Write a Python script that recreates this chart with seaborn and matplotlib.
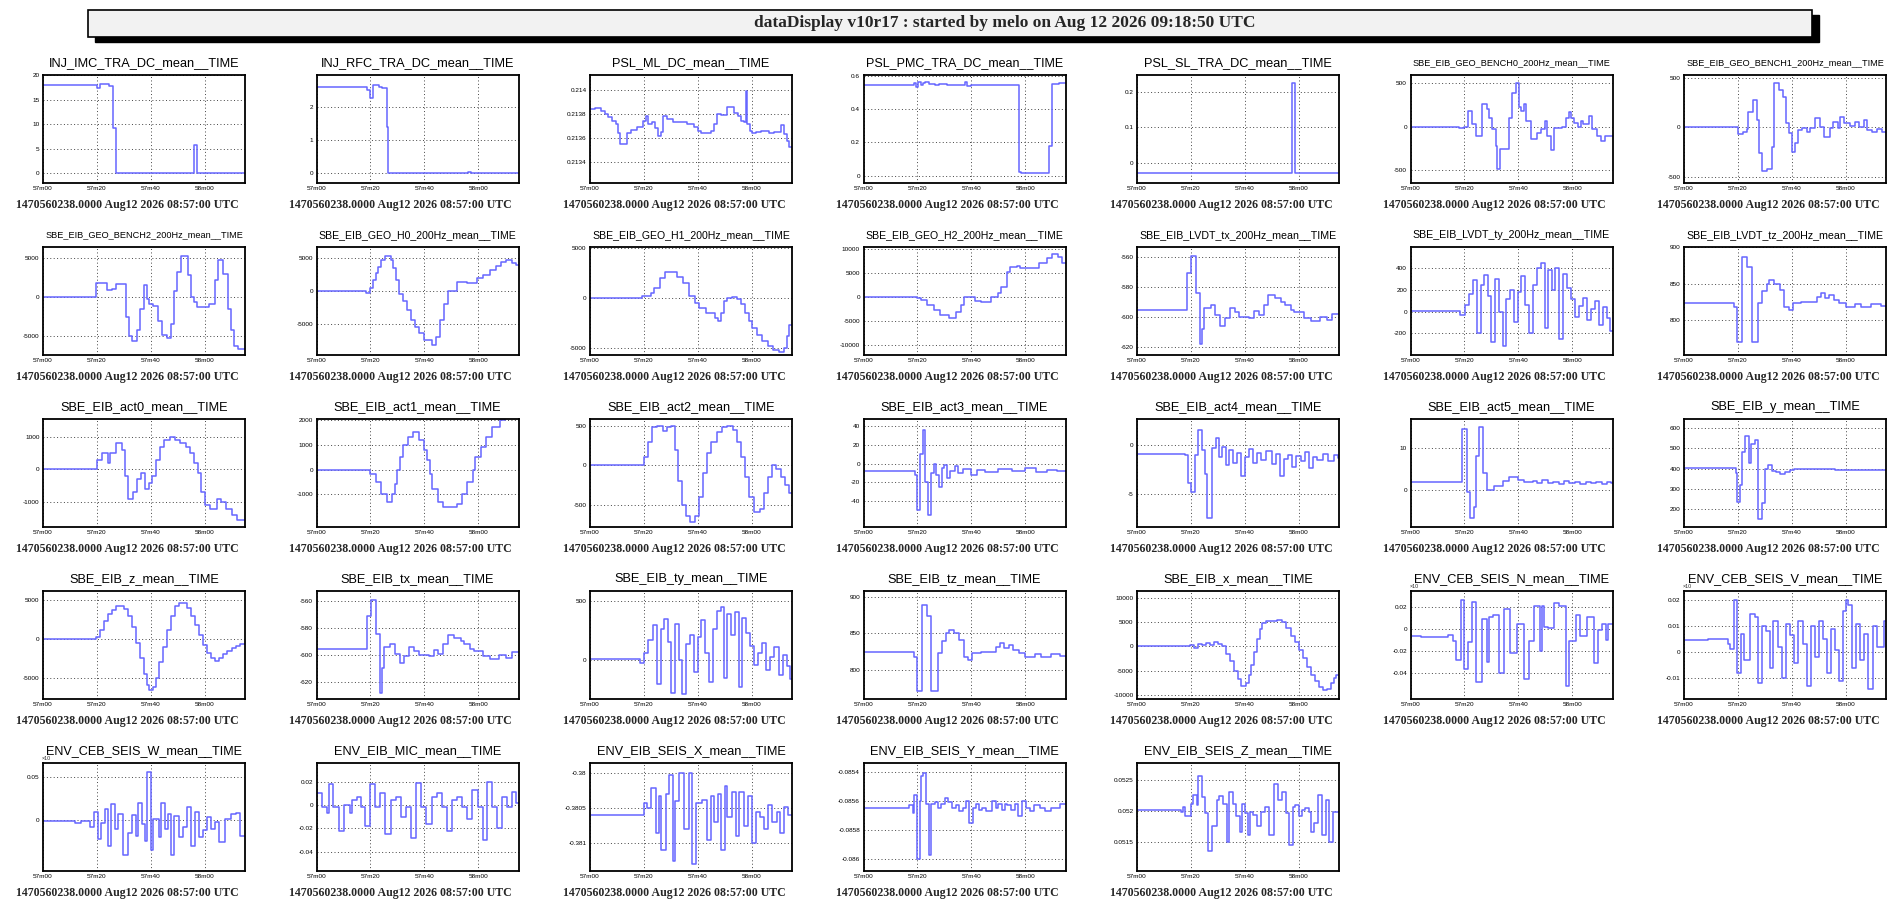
import matplotlib
matplotlib.use("Agg")
import matplotlib.pyplot as plt
import seaborn as sns
from matplotlib.patches import Rectangle
from matplotlib.ticker import FixedLocator, FixedFormatter, MultipleLocator, AutoMinorLocator

# ---- chart text -------------------------------------------------------------
MAIN_TITLE = "dataDisplay v10r17 : started by melo on Aug 12 2026 09:18:50 UTC"
DATE_LABEL = "1470560238.0000 Aug12 2026 08:57:00 UTC"
X_TICKS = [0, 20, 40, 60]
X_LABELS = ["57m00", "57m20", "57m40", "58m00"]
T_END = 75

# ---- data: step breakpoints (seconds after 08:57:00) and values --------------
imc_t = [0, 20, 21, 22, 24.5, 26, 27, 56.2, 57.3]
imc_v = [17.9, 17.3, 18.2, 18.1, 17.7, 9.2, 0, 5.7, 0]

rfc_t = [0, 18.6, 19.7, 20.8, 23.3, 24.5, 26.0, 26.6, 56.3, 57.5]
rfc_v = [2.6, 2.5, 2.25, 2.65, 2.6, 2.55, 1.4, 0, 0.03, 0]

ml_t = [0, 1.7, 4.2, 5.5, 6.8, 8, 9.5, 10.5, 11.2, 13.9, 15.1, 17.6, 19.5, 20.8, 21.5, 23, 24,
        25.2, 26.5, 27.2, 28.7, 31, 36, 38.6, 40, 41.1, 44.8, 46, 47.2, 48.5, 51, 53.5, 54.8,
        56, 57, 58, 58.4, 59.4, 60.3, 61.5, 63.4, 66.5, 68.3, 70.8, 72.1, 73.3, 74]
ml_v = [0.21384, 0.21385, 0.21382, 0.21380, 0.21377, 0.21374, 0.21372, 0.21364, 0.21355,
        0.21364, 0.21367, 0.21369, 0.21374, 0.21378, 0.21372, 0.21373, 0.21368, 0.21362,
        0.21365, 0.21378, 0.21376, 0.21373, 0.21372, 0.21369, 0.21366, 0.21364, 0.21366,
        0.21372, 0.21380, 0.21379, 0.21386, 0.21381, 0.21378, 0.21374, 0.21373, 0.21399,
        0.21372, 0.21366, 0.21364, 0.21365, 0.21366, 0.21364, 0.21365, 0.21371, 0.21363,
        0.21358, 0.21353]

pmc_t = [0, 18.8, 19.6, 20.4, 21.2, 22.0, 23.0, 24.5, 26.5, 28, 31, 37.5, 38.5, 40, 57.9,
         58.6, 69.0, 70.0, 72.5]
pmc_v = [0.545, 0.555, 0.535, 0.56, 0.545, 0.555, 0.56, 0.55, 0.545, 0.55, 0.545, 0.56,
         0.54, 0.545, 0.024, 0.015, 0.18, 0.55, 0.555]

sl_t = [0, 57.5, 58.5]
sl_v = [-0.03, 0.225, -0.03]

bench0_t = [0, 18.0, 19.8, 21.3, 22.9, 24.4, 26.7, 28.3, 29.1, 30.4, 31.6, 32.2, 33.2, 36.6,
            37.8, 39.0, 40.3, 41.1, 42.1, 43.0, 44.6, 47.1, 48.3, 49.8, 50.8, 52.0, 53.3,
            56.4, 57.6, 58.9, 59.5, 60.7, 62.2, 63.2, 64.2, 66.3, 67.5, 69.1, 70.9, 72.1]
bench0_v = [0, -20, 0, 183, 27, -108, 259, 203, 103, -31, -220, -490, -253, 103, 390, 506,
            230, 183, 259, 65, -138, -70, -31, 65, -108, -272, -12, 0, 103, 169, 103, 46, 0,
            65, 27, 122, -31, -108, -165, -108]

bench1_t = [0, 20.2, 22.0, 23.3, 23.9, 25.5, 27.0, 28.0, 28.8, 30.7, 32.6, 33.4, 35.4, 36.9,
            37.9, 38.8, 40.0, 41.3, 42.5, 43.8, 45.6, 46.9, 48.7, 50.6, 51.8, 54.3, 55.5,
            57.0, 58.0, 59.5, 61.7, 63.6, 64.8, 66.7, 67.9, 69.8, 71.6, 73.5]
bench1_v = [0, -71, -50, -20, 157, 275, 74, -262, -437, -420, -195, 443, 376, 309, 40, -60,
            -245, -161, -30, -10, -44, -10, 90, 0, -101, -10, 57, -10, 101, 40, 13, 57, 0,
            74, -30, -44, -20, -44]

bench2_t = [0, 19.5, 21.6, 23.8, 25.5, 27.0, 30.7, 31.8, 33.0, 35.0, 36.2, 37.4, 38.5, 39.3,
            41.0, 42.8, 44.0, 46.0, 47.5, 48.6, 49.7, 51.4, 54.0, 55.1, 56.2, 57.3, 61.6,
            63.7, 64.8, 67.0, 68.7, 69.8, 71.0, 72.5]
bench2_v = [0, 1740, 1830, 960, 1090, 1650, -2500, -5000, -5600, -4200, -1500, 1500, -200,
            -870, -1090, -3000, -4800, -5200, -3500, 800, 3200, 5200, 2800, 0, -600, -1300,
            -870, 2200, 4800, 3000, -1500, -4200, -6200, -6600]

h0_t = [0, 18.3, 20.0, 21.0, 22.0, 23.0, 24.0, 25.5, 27.5, 28.5, 29.5, 30.5, 32.0, 33.5,
        35.0, 36.5, 38.0, 40.0, 43.0, 44.5, 46.0, 47.5, 49.0, 52.0, 56.0, 59.5, 62.0, 64.5,
        66.5, 68.5, 70.5, 72.5, 74.0]
h0_v = [0, -310, 360, 1650, 2680, 3600, 4740, 5260, 4700, 3450, 1650, -410, -1500, -3000,
        -4500, -5500, -6500, -7500, -8300, -7000, -4500, -2000, 0, 1390, 1130, 1900, 2420,
        3190, 3800, 4480, 4740, 4220, 3970]

h1_t = [0, 19.4, 22.6, 23.7, 25.9, 28.0, 32.3, 34.5, 36.6, 38.8, 40.5, 43.1, 46.3, 47.5,
        48.5, 49.6, 51.0, 52.8, 54.5, 56.0, 57.5, 59.0, 60.3, 62.0, 64.0, 66.0, 68.0, 70.0,
        72.0, 73.0, 74.0]
h1_v = [0, 220, 450, 1000, 2000, 2600, 2100, 1500, 200, -570, -1050, -1530, -2000, -2300,
        -1500, -300, 0, 100, -100, -600, -1500, -2300, -3000, -3700, -4300, -4800, -5200,
        -5400, -5000, -3800, -2700]

h2_t = [0, 20.0, 21.2, 23.6, 26.0, 28.3, 31.9, 34.3, 36.2, 37.4, 39.0, 41.4, 43.8, 47.4,
        49.8, 51.0, 53.3, 54.5, 56.9, 58.1, 60.5, 65.2, 68.1, 70.0, 72.4, 73.6]
h2_v = [0, -200, -555, -1600, -2640, -3680, -4230, -2980, -1600, 140, 0, -760, -900, 140,
        830, 2220, 5340, 6380, 6600, 6040, 6180, 7080, 8120, 8950, 8470, 7080]

ltx_t = [0, 18.6, 20.2, 21.9, 23.3, 24.2, 25.0, 27.4, 29.0, 31.0, 32.5, 34.5, 36.3, 38.0,
         41.7, 43.5, 45.2, 47.0, 48.8, 51.2, 53.6, 54.8, 57.0, 58.3, 61.9, 64.5, 67.9, 70.5,
         72.5]
ltx_v = [-595.6, -571, -559.5, -584.4, -618, -608, -594.4, -592.2, -598.9, -606, -601,
         -594.4, -597, -600, -601.1, -596, -599, -592, -585.5, -587.7, -590, -592.2, -595.6,
         -597, -601.1, -603, -600, -602, -598]

lty_t = [0, 18.4, 20.2, 21.6, 23.3, 24.8, 26.2, 27.4, 28.8, 30.0, 31.5, 33.0, 34.2, 35.6,
         37.0, 38.5, 40.0, 41.2, 42.6, 44.0, 45.5, 47.0, 48.5, 49.8, 51.0, 52.4, 53.8, 55.2,
         56.5, 58.0, 59.5, 61.0, 62.5, 64.0, 65.5, 67.0, 68.5, 70.0, 71.5, 73.0, 74.2]
lty_v = [5, -30, 60, 160, 290, -200, 250, 340, 140, -280, 300, 0, -320, 120, 200, -100, 180,
         330, 60, -200, 250, 400, 450, -150, 380, 200, 400, -250, 350, 220, 120, -50, 50,
         130, -80, 20, 100, -120, 40, -60, -180]

ltz_t = [0, 18.7, 19.7, 21.6, 23.5, 25.2, 27.6, 29.0, 30.7, 31.7, 33.6, 35.5, 37.2, 38.8,
         40.3, 43.6, 49.2, 50.8, 52.3, 54.0, 55.6, 57.6, 60.0, 63.5, 65.9, 69.5, 73.1]
ltz_v = [824, 818, 770, 887, 873, 770, 823, 840, 850, 855, 850, 841, 818, 814, 823, 825,
         832, 837, 830, 834, 827, 823, 818, 822, 818, 822, 819]

act0_t = [0, 20, 22, 24, 25, 27, 29.5, 30.5, 31.5, 33.5, 35, 36.5, 38, 39.5, 40.5, 42, 43.5,
          45, 47, 49, 51, 53, 54.5, 56, 57.5, 58.5, 60, 62, 64.5, 66, 68, 70, 72]
act0_v = [0, 300, 500, 200, 500, 800, 600, -200, -900, -700, -300, -100, -600, -400, -200,
          300, 700, 900, 1000, 900, 800, 700, 500, 200, -100, -700, -1100, -1200, -900,
          -1000, -1200, -1400, -1550]

act1_t = [0, 20, 22, 24, 26, 28, 29, 30, 31, 32, 34, 36, 38, 40, 41, 42, 43, 45, 47, 52,
          54, 56, 58, 59, 61, 63, 65, 68, 70]
act1_v = [0, -200, -500, -1000, -1300, -1000, -600, 0, 500, 1000, 1300, 1500, 1200, 800,
          400, -200, -800, -1300, -1500, -1400, -1000, -500, 0, 500, 900, 1300, 1700, 2000,
          2100]

act2_t = [0, 20, 21.5, 23, 25, 27, 28.5, 30, 31.5, 32.5, 34, 35.5, 37, 39, 40.5, 42, 43.5,
          45, 47, 49, 51, 53, 54.5, 56, 57.5, 59, 61, 63, 64.5, 66, 67.5, 69, 71, 72.5, 74]
act2_v = [0, 100, 300, 480, 500, 430, 480, 500, 200, -200, -500, -650, -720, -650, -400,
          -100, 150, 300, 420, 480, 500, 450, 300, 100, -150, -400, -600, -550, -350, -150,
          0, -50, -150, -250, -350]

act3_t = [0, 19, 20, 21, 22, 23, 24, 25, 26, 27, 28, 29, 30, 31, 32, 34, 35, 37, 40, 42, 45,
          50, 55, 60, 64, 68, 72]
act3_v = [-8, -12, -50, 10, 36, -20, -55, -10, 0, -12, -25, -5, -2, -15, -8, -3, -10, -6,
          -12, -7, -9, -6, -8, -5, -9, -7, -8]

act4_t = [0, 18, 19, 20.2, 21.5, 22.5, 24, 25.2, 26, 28, 29.5, 30.5, 31.5, 33, 34, 35.5, 37,
          38.5, 40, 41.5, 43, 44.5, 46, 48, 50, 51.5, 53, 54.5, 56, 57.5, 59, 61, 62.5, 64,
          65.5, 67, 69, 71, 73, 74.5]
act4_v = [-0.9, -1.0, -3.9, -4.8, -1.0, 1.6, -0.5, -3.0, -7.5, -0.3, 0.7, -1.2, -0.2, -2.0,
          -0.5, -1.8, -0.8, -3.2, -1.2, -0.4, -1.8, -0.8, -1.5, -0.6, -1.9, -0.9, -3.2, -1.4,
          -1.0, -2.2, -1.1, -1.6, -0.7, -2.3, -1.2, -1.5, -0.9, -1.6, -1.0, -1.3]

act5_t = [0, 19, 21, 22, 23.5, 24.5, 25.5, 27, 28.5, 31, 34.5, 36.5, 40, 42, 45.5, 47, 49,
          51, 53, 55, 57, 59, 61, 63, 65, 67, 69, 71, 73, 74.5]
act5_v = [1.8, 14.5, -0.4, -6.7, -4, 8, 15, 4, 0, 0.9, 2.1, 3.1, 2.4, 1.9, 2.1, 1.7, 2.3, 1.6,
          2.0, 1.5, 2.2, 1.7, 1.9, 1.5, 2.0, 1.6, 1.8, 1.4, 1.9, 1.6]

y_t = [0, 19.3, 19.8, 20.7, 21.5, 22.5, 24, 25, 26.2, 27.6, 28.8, 30, 31.2, 32.5, 34, 35.5,
       37.5, 39.5, 41, 43, 45, 48, 52, 56, 60, 65, 70]
y_v = [402, 380, 237, 320, 480, 560, 430, 520, 540, 150, 230, 400, 420, 390, 382, 375, 385,
       392, 398, 400, 396, 398, 396, 395, 394, 395, 394]

z_t = [0, 19.5, 21, 22.5, 24, 25.5, 27, 28.5, 30, 31.5, 33, 34.5, 36, 37.5, 38.5, 39.5, 41,
       42, 43, 44.5, 46, 47.5, 49, 50.5, 52, 53.5, 55, 56.5, 58, 59.5, 61, 62.5, 64, 65.5,
       67, 68.5, 70, 71.5, 73, 74.5]
z_v = [0, 300, 1200, 2300, 3200, 3800, 4200, 4300, 3900, 3000, 1500, -500, -2500, -4500,
       -6000, -6600, -6200, -5000, -3000, -1000, 1200, 3000, 4200, 4700, 4600, 4000, 3000,
       1800, 500, -800, -1800, -2500, -2800, -2500, -2000, -1500, -1200, -900, -700, -600]

tx_t = [0, 18.8, 20.4, 22.0, 23.5, 24.4, 25.2, 27.4, 29.0, 31.0, 32.5, 34.5, 36.3, 38.0,
        41.7, 43.5, 45.2, 47.0, 48.8, 51.2, 53.6, 54.8, 57.0, 58.3, 61.9, 64.5, 67.9, 70.5,
        72.5]
tx_v = [-595.6, -571, -559.5, -584.4, -628, -610, -594.4, -592.2, -598.9, -606, -601, -594.4,
        -597, -600, -601.1, -596, -599, -592, -585.5, -587.7, -590, -592.2, -595.6, -597,
        -601.1, -603, -600, -602, -598]

ty_t = [0, 18.4, 20.2, 21.6, 23.3, 24.8, 26.2, 27.4, 28.8, 30.0, 31.5, 33.0, 34.2, 35.6,
        37.0, 38.5, 40.0, 41.2, 42.6, 44.0, 45.5, 47.0, 48.5, 49.8, 51.0, 52.4, 53.8, 55.2,
        56.5, 58.0, 59.5, 61.0, 62.5, 64.0, 65.5, 67.0, 68.5, 70.0, 71.5, 73.0, 74.2]
ty_v = [5, -30, 60, 170, 300, -210, 260, 350, 150, -290, 310, 0, -300, 130, 210, -110, 190,
        340, 60, -190, 260, 420, 450, -160, 390, 210, 410, -240, 360, 230, 120, -50, 60, 140,
        -90, 20, 110, -130, 40, -60, -170]

tz_t = [0, 18.7, 19.7, 21.6, 23.5, 25.2, 27.6, 29.0, 30.7, 31.7, 33.6, 35.5, 37.2, 38.8,
        40.3, 43.6, 49.2, 50.8, 52.3, 54.0, 55.6, 57.6, 60.0, 63.5, 65.9, 69.5, 73.1]
tz_v = [824, 818, 772, 888, 874, 772, 823, 840, 850, 855, 850, 841, 818, 814, 823, 825, 832,
        837, 830, 834, 827, 823, 818, 822, 818, 822, 819]

x_t = [0, 19.5, 21, 22.5, 24, 25.5, 27, 28.5, 30, 31.5, 33, 34.5, 36, 37.5, 38.5, 40.5,
       41.5, 42.5, 43.5, 44.5, 45.5, 46.5, 48, 50, 52, 54, 55.5, 57, 58.5, 60, 61.5, 63,
       64.5, 66, 67.5, 69, 70.5, 72, 73, 74]
x_v = [0, 300, -300, 400, 200, 600, 300, 800, 500, 0, -1500, -3000, -5000, -6800, -8200,
       -7600, -6000, -3800, -1200, 1500, 3500, 4800, 5300, 5200, 5400, 5000, 3800, 2200,
       800, -800, -2500, -4200, -5800, -7200, -8400, -9000, -8700, -7500, -6500, -5800]

seisn_t = [0, 4, 7, 10, 13, 14.1, 15.9, 17, 18.7, 19.8, 21.2, 22.8, 24.5, 26.5, 28.3, 29,
           30.8, 32.7, 34.8, 36.8, 39.6, 42, 44, 46, 48, 48.9, 49.5, 51, 53.2, 55.1, 57.6,
           59, 61.3, 63, 65.7, 68, 69.8, 71, 72.5, 73.5]
seisn_v = [-0.0065, -0.0070, -0.0068, -0.0072, -0.0066, -0.0050, -0.011, -0.028, 0.027,
           -0.036, -0.012, 0.025, -0.048, 0.009, -0.030, 0.011, 0.013, -0.040, 0.018,
           -0.022, 0.005, -0.045, -0.011, 0.021, -0.020, 0.021, 0.002, 0.001, 0.024, 0.021,
           -0.052, -0.011, 0.013, -0.006, 0.011, -0.031, -0.001, 0.005, -0.010, 0.005]

seisv_t = [0, 9, 16.2, 17.0, 18.6, 19.8, 21.0, 22.4, 24.5, 26.4, 27.3, 28.8, 30.5, 31.8,
           33.2, 35, 36.5, 38, 39.5, 41, 42.5, 44, 45.5, 47, 48.5, 50, 51.5, 53, 54.5, 56,
           57.5, 59, 60.2, 61, 62.5, 64, 65.5, 67, 68.5, 70, 71.5, 73, 74.2]
seisv_v = [0.0046, 0.0050, 0.0033, 0.0014, 0.020, -0.008, 0.007, -0.003, 0.0145, 0.0135,
           -0.012, 0.010, 0.008, -0.006, 0.012, 0.002, -0.010, 0.011, 0.0065, -0.004, 0.012,
           0.003, -0.013, 0.010, -0.002, 0.012, 0.005, -0.008, 0.009, 0.001, -0.011, 0.016,
           0.020, 0.018, -0.006, 0.011, -0.003, 0.007, -0.014, 0.010, 0.002, 0.002, 0.012]

seisw_t = [0, 12, 14, 17.5, 19.1, 20.4, 21.5, 22.9, 24.2, 25.4, 26.7, 27.7, 29.6, 31.5,
           33.0, 34.4, 35.3, 36.8, 37.8, 38.7, 40.1, 41.0, 42.9, 43.9, 45.2, 46.4, 47.7,
           48.7, 50.6, 51.8, 53.4, 54.8, 56.3, 57.8, 59.5, 61.0, 62.5, 64.0, 65.5, 67.7,
           69.7, 71.6, 73.0]
seisw_v = [-0.001, -0.003, -0.001, -0.008, 0.0096, -0.022, -0.004, 0.0123, -0.030, 0.019,
           -0.010, 0.007, -0.040, -0.015, 0.006, -0.018, 0.020, -0.005, -0.024, 0.056,
           -0.035, 0.001, -0.020, 0.020, -0.010, 0.007, -0.040, 0.0046, -0.020, -0.008,
           0.0154, -0.030, 0.0096, -0.020, -0.012, 0.004, -0.010, -0.002, -0.025, 0.001,
           0.007, 0.0085, -0.018]

mic_t = [0, 1.9, 3.8, 4.7, 6.3, 8.5, 10.1, 12.3, 13.3, 15.2, 16.5, 18.0, 19.9, 21.8, 23.7,
         25.6, 27.5, 29.4, 31.3, 33.2, 35.1, 37.0, 38.9, 40.8, 42.7, 44.6, 46.5, 48.4, 50.3,
         52.2, 54.1, 56.0, 57.9, 59.8, 61.7, 63.2, 65.1, 67.0, 68.9, 70.8, 72.7, 74.0]
mic_v = [0.010, -0.0014, -0.0072, 0.018, -0.0014, -0.022, 0.0, -0.0072, 0.0043, 0.0072,
         -0.0014, -0.018, 0.018, -0.0014, 0.010, -0.025, 0.0043, 0.0072, -0.010, -0.0014,
         -0.028, 0.019, -0.0014, -0.016, 0.0072, 0.010, -0.0014, -0.022, 0.0043, 0.0072,
         -0.0014, -0.012, 0.013, -0.0014, -0.030, 0.020, -0.0014, -0.020, 0.0072, -0.0014,
         0.011, 0.0014]

seisx_t = [0, 20.0, 21.3, 22.8, 24.5, 25.7, 26.5, 28.3, 29.3, 30.7, 31.5, 33.0, 34.9, 36.7,
           38.0, 39.5, 41.4, 43.3, 45.0, 46.1, 47.4, 48.6, 50.0, 51.0, 52.6, 54.2, 55.4,
           57.2, 58.7, 60.0, 61.5, 63.1, 64.5, 66.0, 67.7, 69.3, 70.6, 72.2, 73.7]
seisx_v = [-0.38060, -0.38043, -0.38050, -0.38021, -0.38085, -0.38033, -0.38110, -0.38029,
           -0.38002, -0.38125, -0.38040, -0.37999, -0.38080, -0.37999, -0.38130, -0.38043,
           -0.38038, -0.38095, -0.38032, -0.38070, -0.38029, -0.38110, -0.38018, -0.38062,
           -0.38026, -0.38090, -0.38026, -0.38075, -0.38033, -0.38100, -0.38055, -0.38062,
           -0.38080, -0.38045, -0.38070, -0.38055, -0.38085, -0.38048, -0.38060]

seisy_t = [0, 16.8, 18.2, 18.9, 20.0, 21.0, 21.4, 22.0, 23.1, 24.2, 25.2, 26.6, 27.6, 28.7,
           30.1, 31.3, 32.7, 34.4, 35.5, 36.9, 37.9, 39.3, 40.7, 41.7, 42.8, 43.9, 45.6,
           47.7, 49.2, 50.1, 51.3, 52.4, 53.4, 54.8, 56.2, 57.2, 59.0, 60.4, 61.8, 63.2,
           65.4, 67.5, 69.6, 73.1]
seisy_v = [-0.08565, -0.08563, -0.08568, -0.08556, -0.08600, -0.08560, -0.08543, -0.08541,
           -0.08562, -0.08597, -0.08562, -0.08561, -0.08565, -0.08562, -0.08558, -0.08561,
           -0.08565, -0.08563, -0.08567, -0.08565, -0.08560, -0.08575, -0.08565, -0.08562,
           -0.08566, -0.08565, -0.08567, -0.08560, -0.08565, -0.08562, -0.08566, -0.08562,
           -0.08563, -0.08566, -0.08562, -0.08570, -0.08560, -0.08565, -0.08567, -0.08563,
           -0.08565, -0.08567, -0.08565, -0.08562]

seisz_t = [0, 16.5, 17.2, 17.9, 20.0, 20.7, 22.1, 22.8, 24.2, 25.4, 26.3, 27.7, 29.6, 30.6,
           32.0, 33.4, 34.1, 35.5, 36.9, 38.3, 39.0, 40.0, 41.1, 41.8, 43.2, 44.6, 46.1,
           47.5, 48.9, 51.0, 52.4, 53.8, 55.2, 56.6, 58.0, 58.7, 60.1, 61.1, 62.3, 63.7,
           64.6, 65.8, 67.2, 68.6, 70.0, 71.4, 72.8]
seisz_v = [0.05201, 0.05198, 0.05207, 0.05191, 0.05212, 0.05226, 0.05210, 0.05257, 0.05223,
           0.05196, 0.05135, 0.05175, 0.05217, 0.05225, 0.05212, 0.05150, 0.05231, 0.05212,
           0.05191, 0.05165, 0.05212, 0.05196, 0.05160, 0.05198, 0.05193, 0.05175, 0.05198,
           0.05207, 0.05160, 0.05244, 0.05217, 0.05231, 0.05196, 0.05145, 0.05207, 0.05210,
           0.05191, 0.05201, 0.05204, 0.05198, 0.05165, 0.05180, 0.05226, 0.05160, 0.05217,
           0.05150, 0.05198]

# ---- panels: title, series, y range, y ticks, exponent flag -------------------
PANELS = [
    ("INJ_IMC_TRA_DC", imc_t, imc_v, (-2, 20), [0, 5, 10, 15, 20], False),
    ("INJ_RFC_TRA_DC", rfc_t, rfc_v, (-0.3, 2.95), [0, 1, 2], False),
    ("PSL_ML_DC", ml_t, ml_v, (0.21323, 0.21412), [0.2134, 0.2136, 0.2138, 0.214], False),
    ("PSL_PMC_TRA_DC", pmc_t, pmc_v, (-0.045, 0.605), [0, 0.2, 0.4, 0.6], False),
    ("PSL_SL_TRA_DC", sl_t, sl_v, (-0.058, 0.249), [0, 0.1, 0.2], False),
    ("SBE_EIB_GEO_BENCH0_200Hz", bench0_t, bench0_v, (-650, 595), [-500, 0, 500], False),
    ("SBE_EIB_GEO_BENCH1_200Hz", bench1_t, bench1_v, (-560, 527), [-500, 0, 500], False),
    ("SBE_EIB_GEO_BENCH2_200Hz", bench2_t, bench2_v, (-7400, 6400), [-5000, 0, 5000], False),
    ("SBE_EIB_GEO_H0_200Hz", h0_t, h0_v, (-9800, 6700), [-5000, 0, 5000], False),
    ("SBE_EIB_GEO_H1_200Hz", h1_t, h1_v, (-5700, 5050), [-5000, 0, 5000], False),
    ("SBE_EIB_GEO_H2_200Hz", h2_t, h2_v, (-12000, 10500), [-10000, -5000, 0, 5000, 10000], False),
    ("SBE_EIB_LVDT_tx_200Hz", ltx_t, ltx_v, (-625.5, -553.5), [-620, -600, -580, -560], False),
    ("SBE_EIB_LVDT_ty_200Hz", lty_t, lty_v, (-400, 596), [-200, 0, 200, 400], False),
    ("SBE_EIB_LVDT_tz_200Hz", ltz_t, ltz_v, (752, 900.5), [800, 850, 900], False),
    ("SBE_EIB_act0", act0_t, act0_v, (-1760, 1544), [-1000, 0, 1000], False),
    ("SBE_EIB_act1", act1_t, act1_v, (-2320, 2040), [-1000, 0, 1000, 2000], False),
    ("SBE_EIB_act2", act2_t, act2_v, (-785, 588), [-500, 0, 500], False),
    ("SBE_EIB_act3", act3_t, act3_v, (-67.7, 47.5), [-40, -20, 0, 20, 40], False),
    ("SBE_EIB_act4", act4_t, act4_v, (-8.4, 2.7), [-5, 0], False),
    ("SBE_EIB_act5", act5_t, act5_v, (-8.75, 16.8), [0, 10], False),
    ("SBE_EIB_y", y_t, y_v, (113, 644), [200, 300, 400, 500, 600], False),
    ("SBE_EIB_z", z_t, z_v, (-7760, 6190), [-5000, 0, 5000], False),
    ("SBE_EIB_tx", tx_t, tx_v, (-632.6, -552.6), [-620, -600, -580, -560], False),
    ("SBE_EIB_ty", ty_t, ty_v, (-340, 590), [0, 500], False),
    ("SBE_EIB_tz", tz_t, tz_v, (760.5, 907.6), [800, 850, 900], False),
    ("SBE_EIB_x", x_t, x_v, (-10840, 11380), [-10000, -5000, 0, 5000, 10000], False),
    ("ENV_CEB_SEIS_N", seisn_t, seisn_v, (-0.0634, 0.0348), [-0.04, -0.02, 0, 0.02], True),
    ("ENV_CEB_SEIS_V", seisv_t, seisv_v, (-0.018, 0.0235), [-0.01, 0, 0.01, 0.02], True),
    ("ENV_CEB_SEIS_W", seisw_t, seisw_v, (-0.059, 0.066), [0, 0.05], True),
    ("ENV_EIB_MIC", mic_t, mic_v, (-0.0566, 0.036), [-0.04, -0.02, 0, 0.02], False),
    ("ENV_EIB_SEIS_X", seisx_t, seisx_v, (-0.3814, -0.37985), [-0.381, -0.3805, -0.38], False),
    ("ENV_EIB_SEIS_Y", seisy_t, seisy_v, (-0.08608, -0.08534),
     [-0.086, -0.0858, -0.0856, -0.0854], False),
    ("ENV_EIB_SEIS_Z", seisz_t, seisz_v, (0.05102, 0.05278), [0.0515, 0.052, 0.0525], False),
]

# ---- style --------------------------------------------------------------------
W, H = 1891, 910
LINE_COLOR = "#6666ff"
sns.set_theme(style="white")
plt.rcParams["font.family"] = ["Liberation Sans", "DejaVu Sans"]

fig = plt.figure(figsize=(W / 100, H / 100), dpi=100)
fig.patch.set_facecolor("white")
renderer = fig.canvas.get_renderer()


def fx(px):
    return px / W


def fy(py):
    return 1 - py / H


# title pave with shadow
fig.patches.append(Rectangle((fx(95), fy(42)), fx(1812 - 88), 27 / H, transform=fig.transFigure,
                             facecolor="black", edgecolor="black", zorder=0))
fig.patches.append(Rectangle((fx(88), fy(37)), fx(1812 - 88), 27 / H, transform=fig.transFigure,
                             facecolor="#f2f2f2", edgecolor="black", linewidth=1.2, zorder=1))
fig.text(fx(1005), fy(23), MAIN_TITLE, ha="center", va="center", fontsize=12.5,
         fontweight="bold", family=["Liberation Serif", "DejaVu Serif"])

AX_W, AX_H = 202, 108
for i, (name, t, v, ylim, yticks, expo) in enumerate(PANELS):
    assert len(t) == len(v), name
    r, c = divmod(i, 7)
    left = 43 + 273.5 * c
    top = 75 + 172 * r
    ax = fig.add_axes([fx(left), fy(top + AX_H), AX_W / W, AX_H / H])

    ts = list(t) + [T_END]
    vs = list(v) + [v[-1]]
    sns.lineplot(x=ts, y=vs, ax=ax, estimator=None, sort=False, drawstyle="steps-post",
                 color=LINE_COLOR, linewidth=1.1)

    ax.set_xlim(0, T_END)
    ax.set_ylim(*ylim)
    ax.set_xlabel("")
    ax.set_ylabel("")
    ax.xaxis.set_major_locator(FixedLocator(X_TICKS))
    ax.xaxis.set_major_formatter(FixedFormatter(X_LABELS))
    ax.xaxis.set_minor_locator(MultipleLocator(5))
    ax.yaxis.set_major_locator(FixedLocator(yticks))
    ax.yaxis.set_major_formatter(FixedFormatter([f"{y:g}" for y in yticks]))
    ax.yaxis.set_minor_locator(AutoMinorLocator(5))
    ax.tick_params(which="both", direction="in", top=False, right=False, colors="black",
                   width=0.8)
    ax.tick_params(which="major", length=4, labelsize=4.6, pad=2.5)
    ax.tick_params(which="minor", length=2)
    ax.grid(True, which="major", color="#444444", linestyle=(0, (1, 2.5)), linewidth=0.7)
    for sp in ax.spines.values():
        sp.set_color("black")
        sp.set_linewidth(1.3)
        sp.set_visible(True)

    # panel title, shrunk when it would overflow the pad
    title = fig.text(fx(left + AX_W / 2), fy(top - 12), f"{name}_mean__TIME", ha="center",
                     va="center", fontsize=9.2, color="black")
    width = title.get_window_extent(renderer).width
    if width > 196:
        title.set_fontsize(9.2 * 196 / width)

    if expo:
        fig.text(fx(left - 1), fy(top - 5), "\u00d710", ha="left", va="center", fontsize=3.8)

    fig.text(fx(left + 84), fy(top + AX_H + 22), DATE_LABEL, ha="center", va="center",
             fontsize=8.6, fontweight="bold", family=["Liberation Serif", "DejaVu Serif"])

fig.savefig("out.png", dpi=100, facecolor="white")
